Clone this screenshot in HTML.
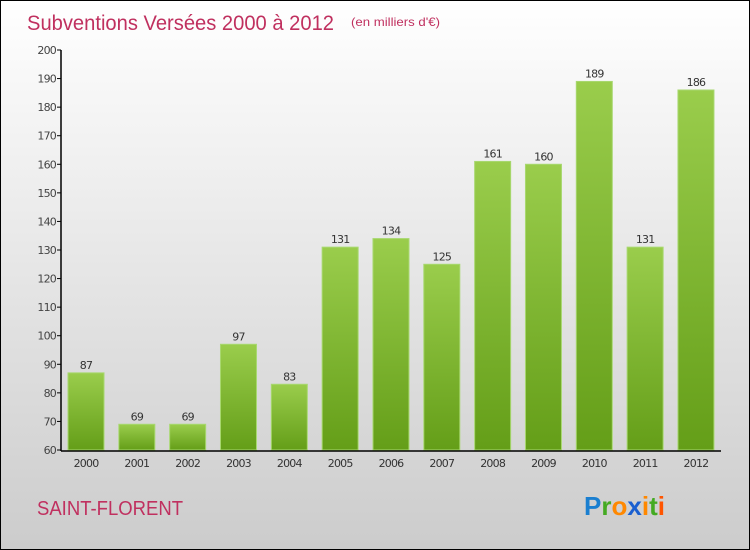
<!DOCTYPE html>
<html><head><meta charset="utf-8"><style>
body{margin:0;}
#c{width:748px;height:548px;border:1px solid #000;background:linear-gradient(#ffffff,#cccccc);position:relative;overflow:hidden;font-family:"DejaVu Sans","Liberation Sans",sans-serif;}
</style></head><body>
<div id="c">
<svg id="s" width="748" height="548">
<defs><linearGradient id="g" x1="0" y1="0" x2="0" y2="1"><stop offset="0" stop-color="#9acd4c"/><stop offset="1" stop-color="#649e18"/></linearGradient></defs>
<text x="26" y="29" font-size="21" fill="#c0305f" font-family="Liberation Sans, sans-serif" textLength="307" lengthAdjust="spacingAndGlyphs">Subventions Versées 2000 à 2012</text>
<text x="350" y="25" font-size="12" fill="#c0305f" font-family="Liberation Sans, sans-serif" textLength="89" lengthAdjust="spacingAndGlyphs">(en milliers d'€)</text>
<text x="36" y="514" font-size="20" fill="#c0305f" font-family="Liberation Sans, sans-serif" textLength="146" lengthAdjust="spacingAndGlyphs">SAINT-FLORENT</text>
<g font-size="26" font-family="Liberation Sans, sans-serif" font-weight="bold">
<text x="583" y="514"><tspan fill="#1a7fd0">P</tspan><tspan fill="#44aa22">r</tspan><tspan fill="#ff8800">o</tspan><tspan fill="#1a5fd0">x</tspan><tspan fill="#ff8800">i</tspan><tspan fill="#44aa22">t</tspan><tspan fill="#ff5500">i</tspan></text></g>
</svg></div>
<script>
const years=["2000","2001","2002","2003","2004","2005","2006","2007","2008","2009","2010","2011","2012"];
const values=[87,69,69,97,83,131,134,125,161,160,189,131,186];
const ticks=[60,70,80,90,100,110,120,130,140,150,160,170,180,190,200];
const ns="http://www.w3.org/2000/svg",s=document.getElementById('s');
const y=v=>449-(v-60)*(400/140), x=i=>67+i*50.83;
function mk(t,a,txt){const e=document.createElementNS(ns,t);for(const k in a)e.setAttribute(k,a[k]);if(txt!==undefined)e.textContent=txt;s.appendChild(e);return e;}
ticks.forEach(t=>{
 const l=mk('line',{x1:56,x2:60,y1:y(t),y2:y(t),stroke:'#000'});
 
 
 const tx=mk('text',{x:55,y:y(t)+4,'font-size':11,fill:'#444','text-anchor':'end','letter-spacing':'-0.8'},t);
 
 
});
years.forEach((yr,i)=>{
 const v=values[i];
 const r=mk('rect',{x:x(i),y:y(v),width:36,height:449-y(v),fill:'url(#g)',stroke:'#a8d870','stroke-width':1});
 
 
 const vl=mk('text',{x:x(i)+18,y:y(v)-4,'font-size':11,fill:'#333','text-anchor':'middle','letter-spacing':'-0.8'},v);
 
 
 const xl=mk('text',{x:x(i)+18,y:466,'font-size':11,fill:'#333','text-anchor':'middle','letter-spacing':'-0.8'},yr);
 
 
});
const ya=mk('line',{x1:60,x2:60,y1:y(200),y2:450,stroke:'#000','stroke-width':1.5});


const xa=mk('line',{x1:60,x2:720,y1:450,y2:450,stroke:'#000','stroke-width':1.5});


</script>
</body></html>
